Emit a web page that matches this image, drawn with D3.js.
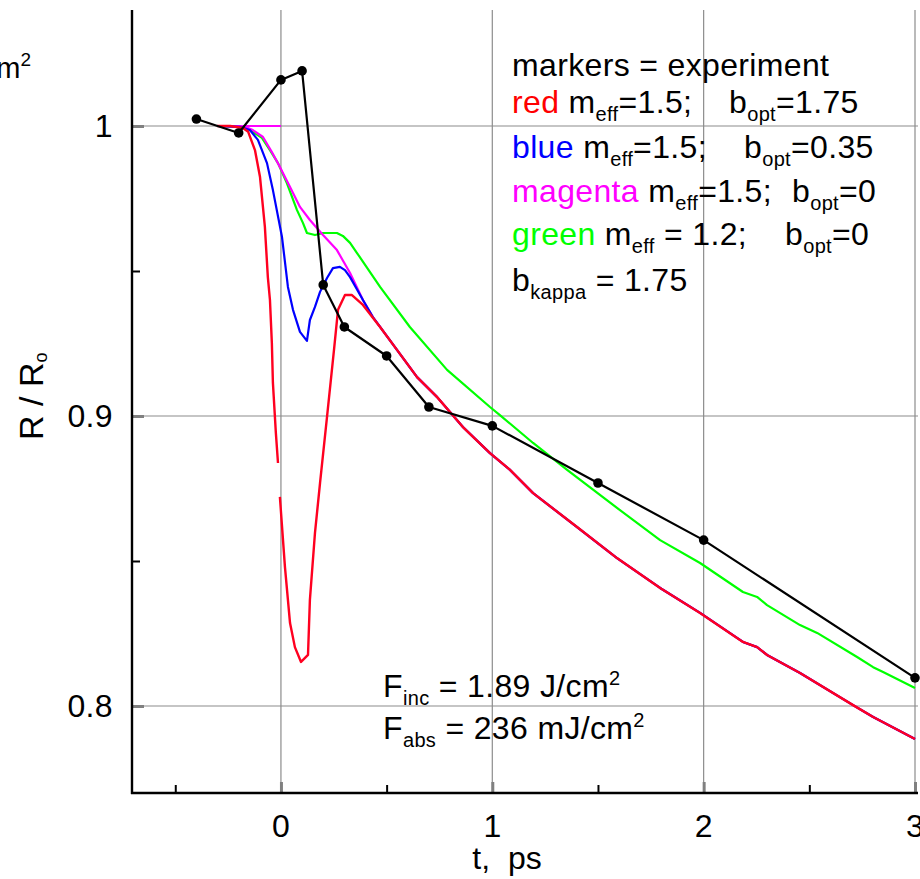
<!DOCTYPE html>
<html>
<head>
<meta charset="utf-8">
<script src="https://cdn.jsdelivr.net/npm/d3@7"></script>
<style>
  html, body { margin: 0; padding: 0; background: #fff; }
  svg { display: block; font-family: "Liberation Sans", Arial, Helvetica, sans-serif; }
</style>
</head>
<body>
<svg id="chart" width="920" height="879"></svg>
<script>
// Measured reflectivity (markers), [t in ps, R/Ro]
const experiment = [
  [-0.4, 1.0024], [-0.2, 0.9976], [0.0, 1.0159], [0.1, 1.019], [0.2, 0.9452],
  [0.3, 0.9307], [0.5, 0.9207], [0.7, 0.9031], [1.0, 0.8966], [1.5, 0.8769],
  [2.0, 0.8572], [3.0, 0.8097]
];

// Late-time decay shared by the red, blue and magenta models
const sharedTail = [
  [0.469, 0.9307], [0.549, 0.9228], [0.644, 0.9134], [0.738, 0.9066], [0.861, 0.8962],
  [0.989, 0.8872], [1.084, 0.8814], [1.193, 0.8734], [1.401, 0.8617], [1.59, 0.851],
  [1.794, 0.8407], [1.983, 0.8321], [2.186, 0.8221], [2.253, 0.8203], [2.3, 0.8176],
  [2.456, 0.8114], [2.707, 0.8003], [2.802, 0.7962], [3.0, 0.7886]
];

// red: m_eff=1.5, b_opt=1.75 (null = break in the curve)
const redEarly = [
  [-0.303, 1.0], [-0.24, 1.0], [-0.18, 0.9993], [-0.155, 0.998], [-0.123, 0.9917],
  [-0.099, 0.9824], [-0.076, 0.9652], [-0.062, 0.9479], [-0.052, 0.94], [-0.043, 0.9252],
  [-0.038, 0.9114], [-0.024, 0.8941], [-0.014, 0.8838], null,
  [-0.005, 0.8721], [0.019, 0.8479], [0.043, 0.8286], [0.066, 0.8203], [0.095, 0.8152],
  [0.128, 0.8176], [0.137, 0.8366], [0.161, 0.8597], [0.185, 0.8769], [0.218, 0.8997],
  [0.251, 0.9228], [0.27, 0.9366], [0.303, 0.9417], [0.336, 0.9417], [0.388, 0.9383]
];

// blue: m_eff=1.5, b_opt=0.35
const blueEarly = [
  [-0.303, 1.0], [-0.194, 0.9997], [-0.147, 0.9986], [-0.109, 0.9952], [-0.066, 0.9872],
  [-0.038, 0.9779], [0.005, 0.9617], [0.033, 0.9445], [0.057, 0.9366], [0.09, 0.929],
  [0.123, 0.9259], [0.137, 0.9331], [0.161, 0.9376], [0.185, 0.9428], [0.218, 0.9476],
  [0.246, 0.951], [0.279, 0.9514], [0.303, 0.9503], [0.327, 0.9479], [0.388, 0.94],
  [0.435, 0.9341]
];

// magenta: m_eff=1.5, b_opt=0
const magentaFlat = [[-0.3, 1.0], [0.0, 1.0]];
const magentaEarly = [
  [-0.303, 1.0], [-0.17, 0.9997], [-0.133, 0.9986], [-0.085, 0.9962], [-0.043, 0.991],
  [-0.005, 0.9859], [0.043, 0.979], [0.09, 0.9721], [0.137, 0.9676], [0.199, 0.9624],
  [0.265, 0.9572], [0.327, 0.9493], [0.388, 0.94], [0.435, 0.9341]
];

// green: m_eff=1.2, b_opt=0
const green = [
  [-0.303, 1.0], [-0.194, 0.9997], [-0.147, 0.9986], [-0.09, 0.9959], [-0.052, 0.9917],
  [-0.014, 0.9872], [0.028, 0.9803], [0.076, 0.971], [0.104, 0.9666], [0.123, 0.9631],
  [0.161, 0.9624], [0.199, 0.9631], [0.265, 0.9631], [0.293, 0.9621], [0.327, 0.9597],
  [0.36, 0.9562], [0.469, 0.9445], [0.61, 0.9307], [0.786, 0.9159],
  [0.989, 0.9031], [1.036, 0.9003], [1.193, 0.8907], [1.354, 0.8814], [1.59, 0.8683],
  [1.794, 0.8572], [1.983, 0.8493], [2.186, 0.8393], [2.253, 0.8376], [2.3, 0.8348],
  [2.456, 0.8279], [2.537, 0.8252], [2.726, 0.8169], [2.802, 0.8134], [2.849, 0.8117],
  [3.0, 0.8062]
];

const xMajor = [0, 1, 2, 3];
const xMinor = [-0.5, 0.5, 1.5, 2.5];
const yMajor = [1, 0.9, 0.8];
const yMinor = [0.95, 0.85];
const xTickLabels = ["0", "1", "2", "3"];
const yTickLabels = ["1", "0.9", "0.8"];

const svg = d3.select("#chart");
const FS = 32, LS = 0.35;

const x = d3.scaleLinear().domain([-0.7, 3]).range([133, 915]);
const y = d3.scaleLinear().domain([0.77, 1.04]).range([793, 10]);
const plotLeft = 132, plotBottom = 793, plotTop = 10, plotRight = 918;

// grid
const grid = svg.append("g").attr("stroke", "#8c8c8c").attr("stroke-width", 1.2);
grid.selectAll(".vg").data(xMajor).join("line")
  .attr("x1", d => x(d)).attr("x2", d => x(d)).attr("y1", plotTop).attr("y2", plotBottom);
grid.selectAll(".hg").data(yMajor).join("line")
  .attr("x1", plotLeft).attr("x2", plotRight).attr("y1", d => y(d)).attr("y2", d => y(d));

// axes: only the left and bottom lines, ticks drawn inward
const gx = svg.append("g").attr("transform", `translate(0,${plotBottom})`)
  .call(d3.axisTop(x).tickValues(xMinor).tickSize(8).tickFormat(""));
gx.select(".domain").remove();
gx.selectAll(".tick line").attr("stroke", "#000").attr("stroke-width", 2);
const gxMaj = svg.append("g").attr("transform", `translate(0,${plotBottom})`)
  .call(d3.axisTop(x).tickValues(xMajor).tickSize(11).tickFormat(""));
gxMaj.select(".domain").remove();
gxMaj.selectAll(".tick line").attr("stroke", "#808080").attr("stroke-width", 3);

const gy = svg.append("g").attr("transform", `translate(${plotLeft},0)`)
  .call(d3.axisRight(y).tickValues(yMinor).tickSize(8).tickFormat(""));
gy.select(".domain").remove();
gy.selectAll(".tick line").attr("stroke", "#000").attr("stroke-width", 2);
const gyMaj = svg.append("g").attr("transform", `translate(${plotLeft},0)`)
  .call(d3.axisRight(y).tickValues(yMajor).tickSize(12).tickFormat(""));
gyMaj.select(".domain").remove();
gyMaj.selectAll(".tick line").attr("stroke", "#808080").attr("stroke-width", 3);

svg.append("line").attr("x1", plotLeft).attr("x2", plotLeft).attr("y1", plotTop).attr("y2", plotBottom + 1)
  .attr("stroke", "#000").attr("stroke-width", 2.4);
svg.append("line").attr("x1", plotLeft - 1).attr("x2", plotRight).attr("y1", plotBottom).attr("y2", plotBottom)
  .attr("stroke", "#000").attr("stroke-width", 2.4);

// tick labels
svg.append("g").selectAll("text").data(xMajor).join("text")
  .attr("x", d => x(d)).attr("y", 837).attr("text-anchor", "middle")
  .attr("font-size", FS).text((d, i) => xTickLabels[i]);
svg.append("g").selectAll("text").data(yMajor).join("text")
  .attr("x", 113).attr("y", d => y(d) + 11).attr("text-anchor", "end")
  .attr("font-size", FS).attr("letter-spacing", LS).text((d, i) => yTickLabels[i]);

// axis titles
svg.append("text").attr("x", 507).attr("y", 869).attr("text-anchor", "middle")
  .attr("font-size", FS).attr("xml:space", "preserve").text("t,  ps");
const yt = svg.append("text").attr("transform", "translate(43,440) rotate(-90)")
  .attr("font-size", 34);
yt.append("tspan").text("R / R");
yt.append("tspan").attr("font-size", 18).attr("dy", 4).text("o");

// model curves
const line = d3.line().defined(d => d !== null).x(d => x(d[0])).y(d => y(d[1]));
const curve = (data, color, w) => svg.append("path").datum(data)
  .attr("d", line).attr("fill", "none").attr("stroke", color)
  .attr("stroke-width", w).attr("stroke-linejoin", "round");

curve(green, "#00ff00", 2.2);
curve(magentaFlat, "#ff00ff", 2.2);
curve(magentaEarly.concat(sharedTail), "#ff00ff", 2.2);
curve(blueEarly.concat(sharedTail), "#0000ff", 2.2);
curve(redEarly.concat(sharedTail), "#ff0020", 2.4);

// experiment
curve(experiment, "#000", 2.2);
svg.append("g").selectAll("circle").data(experiment).join("circle")
  .attr("cx", d => x(d[0])).attr("cy", d => y(d[1])).attr("r", 4.8).attr("fill", "#000");

// legend block
const SUB = 20, SD = 8;
function legendLine(yPos, parts) {
  const t = svg.append("text").attr("x", 512).attr("y", yPos).attr("font-size", FS)
    .attr("letter-spacing", LS).attr("xml:space", "preserve");
  parts.forEach(p => {
    const s = t.append("tspan").text(p.text);
    if (p.fill) s.attr("fill", p.fill);
    if (p.x !== undefined) s.attr("x", p.x).attr("y", yPos);
    if (p.sub) s.attr("font-size", SUB).attr("dy", SD);
    if (p.back) s.attr("dy", -SD);
  });
}
legendLine(76, [{ text: "markers = experiment" }]);
legendLine(113, [
  { text: "red", fill: "#ff0000" }, { text: " m" }, { text: "eff", sub: true }, { text: "=1.5;", back: true },
  { text: "b", x: 729 }, { text: "opt", sub: true }, { text: "=1.75", back: true }
]);
legendLine(158, [
  { text: "blue", fill: "#0000ff" }, { text: " m" }, { text: "eff", sub: true }, { text: "=1.5;", back: true },
  { text: "b", x: 744 }, { text: "opt", sub: true }, { text: "=0.35", back: true }
]);
legendLine(202, [
  { text: "magenta", fill: "#ff00ff" }, { text: " m" }, { text: "eff", sub: true }, { text: "=1.5;", back: true },
  { text: "b", x: 792 }, { text: "opt", sub: true }, { text: "=0", back: true }
]);
legendLine(245, [
  { text: "green", fill: "#00ff00" }, { text: " m" }, { text: "eff", sub: true }, { text: " = 1.2;", back: true },
  { text: "b", x: 785 }, { text: "opt", sub: true }, { text: "=0", back: true }
]);
legendLine(291, [{ text: "b" }, { text: "kappa", sub: true }, { text: " = 1.75", back: true }]);

// fluence notes
function fluence(yPos, sub, rest) {
  const t = svg.append("text").attr("x", 383).attr("y", yPos).attr("font-size", FS)
    .attr("letter-spacing", LS).attr("xml:space", "preserve");
  t.append("tspan").text("F");
  t.append("tspan").attr("font-size", SUB).attr("dy", SD).text(sub);
  t.append("tspan").attr("dy", -SD).text(rest);
  t.append("tspan").attr("font-size", SUB).attr("dy", -12).text("2");
}
fluence(697, "inc", " = 1.89 J/cm");
fluence(739, "abs", " = 236 mJ/cm");

// clipped unit fragment at the top-left edge
const m2 = svg.append("text").attr("x", 31).attr("y", 78).attr("text-anchor", "end")
  .attr("font-size", 29);
m2.append("tspan").text("m");
m2.append("tspan").attr("font-size", 19).attr("dy", -12).text("2");
</script>
</body>
</html>
